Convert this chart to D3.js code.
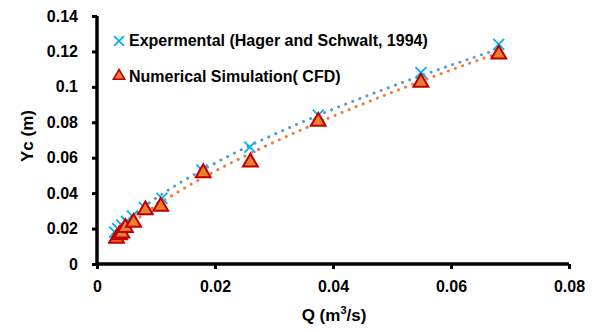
<!DOCTYPE html>
<html>
<head>
<meta charset="utf-8">
<script src="https://cdn.jsdelivr.net/npm/d3@7"></script>
<style>
  body { margin: 0; background: #fff; }
  text { font-family: "Liberation Sans", Arial, sans-serif; font-weight: bold; fill: #000; }
</style>
</head>
<body>
<div id="chart"></div>
<script>
// experimental points (Hager and Schwalt, 1994)
const expQ = [0.0030, 0.0035, 0.0042, 0.0050, 0.0060, 0.0080, 0.0110, 0.0178, 0.0259, 0.0375, 0.0549, 0.0681];
const expY = [0.018, 0.020, 0.022, 0.024, 0.027, 0.032, 0.037, 0.053, 0.066, 0.084, 0.108, 0.124];
// numerical simulation (CFD)
const cfdQ = [0.0033, 0.0038, 0.0042, 0.0048, 0.0062, 0.0082, 0.0108, 0.0180, 0.0260, 0.0375, 0.0549, 0.0681];
const cfdY = [0.015, 0.017, 0.018, 0.021, 0.024, 0.031, 0.033, 0.052, 0.058, 0.081, 0.103, 0.119];

const xTicks = [0, 0.02, 0.04, 0.06, 0.08];
const yTicks = [0, 0.02, 0.04, 0.06, 0.08, 0.1, 0.12, 0.14];
const legendLabels = ["Expermental (Hager and Schwalt, 1994)", "Numerical Simulation( CFD)"];

var margin = {top: 16, right: 28, bottom: 68, left: 97},
    width = 597 - margin.left - margin.right,
    height = 332 - margin.top - margin.bottom;

var svg = d3.select("#chart").append("svg")
    .attr("width", 597).attr("height", 332)
  .append("g")
    .attr("transform", "translate(" + margin.left + "," + margin.top + ")");

var x = d3.scaleLinear().domain([0, 0.08]).range([0, width]);
var y = d3.scaleLinear().domain([0, 0.14]).range([height, 0]);

// power trendline fit (same as the spreadsheet's trendline), drawn over data range
function powerFit(qs, ys) {
  var lx = qs.map(Math.log), ly = ys.map(Math.log);
  var mx = d3.mean(lx), my = d3.mean(ly);
  var b = d3.sum(lx, (v, i) => (v - mx) * (ly[i] - my)) / d3.sum(lx, v => (v - mx) * (v - mx));
  var a = Math.exp(my - b * mx);
  var lo = d3.min(qs), hi = d3.max(qs);
  return d3.range(0, 41).map(k => {
    var q = lo + (hi - lo) * k / 40;
    return [q, a * Math.pow(q, b)];
  });
}

var line = d3.line().x(d => x(d[0])).y(d => y(d[1]));

svg.append("path")
    .attr("d", line(powerFit(expQ, expY)))
    .attr("fill", "none").attr("stroke", "#5B9BD5")
    .attr("stroke-width", 3).attr("stroke-linecap", "round")
    .attr("stroke-dasharray", "0.1 7.5");

svg.append("path")
    .attr("d", line(powerFit(cfdQ, cfdY)))
    .attr("fill", "none").attr("stroke", "#ED7D31")
    .attr("stroke-width", 3).attr("stroke-linecap", "round")
    .attr("stroke-dasharray", "0.1 7.5");

var cross = d3.symbol().type(d3.symbolX).size(80);
var tri = d3.symbol().type(d3.symbolTriangle).size(95);

var expData = expQ.map((q, i) => [q, expY[i]]);
var cfdData = cfdQ.map((q, i) => [q, cfdY[i]]);

svg.selectAll(".exp")
    .data(expData)
    .enter().append("path")
    .attr("class", "exp")
    .attr("d", cross)
    .attr("transform", d => "translate(" + x(d[0]) + "," + y(d[1]) + ")")
    .attr("fill", "none").attr("stroke", "#00B0F0").attr("stroke-width", 1.8);

svg.selectAll(".cfd")
    .data(cfdData)
    .enter().append("path")
    .attr("class", "cfd")
    .attr("d", tri)
    .attr("transform", d => "translate(" + x(d[0]) + "," + (y(d[1]) + 1) + ")")
    .attr("fill", "#ED7D31").attr("stroke", "#C00000").attr("stroke-width", 2);

// axes
var xAxis = svg.append("g")
    .attr("transform", "translate(0," + height + ")")
    .call(d3.axisBottom(x).tickValues(xTicks).tickSize(5).tickPadding(12).tickFormat(d => d === 0 ? "0" : d3.format(".2f")(d)));
var yAxis = svg.append("g")
    .call(d3.axisLeft(y).tickValues(yTicks).tickSize(5).tickPadding(14).tickFormat(d => d === 0 ? "0" : d3.format("")(+d.toFixed(2))));

[xAxis, yAxis].forEach(g => {
  g.select(".domain").attr("stroke", "#000").attr("stroke-width", 3.5);
  g.selectAll(".tick line").attr("stroke", "#000").attr("stroke-width", 3);
  g.selectAll(".tick text").attr("font-size", 16).attr("font-family", null).attr("fill", "#000");
});
xAxis.select(".domain").attr("d", "M0,0H" + width);
yAxis.select(".domain").attr("d", "M0," + height + "V0");

// axis titles
svg.append("text")
    .attr("text-anchor", "middle")
    .attr("x", width / 2 + 1).attr("y", height + 57)
    .attr("font-size", 17)
    .text("Q (m")
  .append("tspan").attr("dy", -7).attr("font-size", 11).text("3")
  .select(function() { return this.parentNode; })
  .append("tspan").attr("dy", 7).text("/s)");

svg.append("text")
    .attr("text-anchor", "middle")
    .attr("transform", "rotate(-90)")
    .attr("x", -120).attr("y", -64)
    .attr("font-size", 17)
    .text("Yc (m)");

// legend
var crossSmall = d3.symbol().type(d3.symbolX).size(65);
var triSmall = d3.symbol().type(d3.symbolTriangle).size(55);
var legend = svg.append("g").attr("transform", "translate(22,25)");
legend.append("path").attr("d", crossSmall).attr("transform", "translate(0,0)")
    .attr("fill", "none").attr("stroke", "#00B0F0").attr("stroke-width", 1.8);
legend.append("path").attr("d", triSmall).attr("transform", "translate(0,35)")
    .attr("fill", "#ED7D31").attr("stroke", "#C00000").attr("stroke-width", 1.6);
legend.selectAll(".lbl")
    .data(legendLabels)
    .enter().append("text")
    .attr("x", 10).attr("y", (d, i) => i * 36 + 5)
    .attr("font-size", 16)
    .text(d => d);
</script>
</body>
</html>
